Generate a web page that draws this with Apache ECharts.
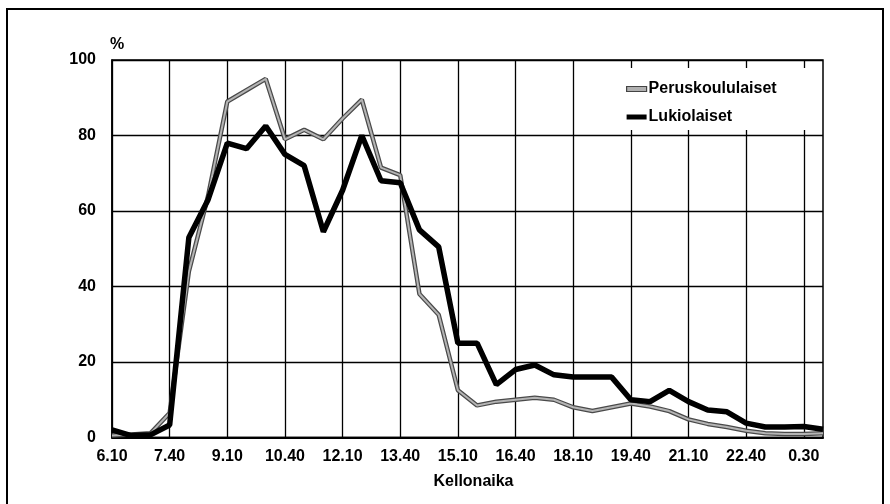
<!DOCTYPE html>
<html>
<head>
<meta charset="utf-8">
<script src="https://cdn.jsdelivr.net/npm/echarts@6/dist/echarts.min.js"></script>
<style>
  html, body { margin: 0; padding: 0; background: #fff; }
  #chart { width: 890px; height: 504px; }
</style>
</head>
<body>
<div id="chart"></div>
<script>
// kellonajat, 30 min valein
var times = ['6.10','6.40','7.10','7.40','8.10','8.40','9.10','9.40','10.10','10.40',
  '11.10','11.40','12.10','12.40','13.10','13.40','14.10','14.40','15.10','15.40',
  '16.10','16.40','17.10','17.40','18.10','18.40','19.10','19.40','20.10','20.40',
  '21.10','21.40','22.10','22.40','23.10','23.40','0.30','1.00'];

var peruskoulu = [0.5, 0.8, 1.1, 6.5, 44, 64, 89, 92, 95, 79,
  81.5, 79, 84.5, 89.5, 71.5, 69.5, 38, 32.5, 12.5, 8.5,
  9.5, 10, 10.5, 10, 8, 7, 8, 9, 8.2, 7,
  4.8, 3.6, 2.8, 1.8, 1.1, 0.9, 0.9, 1.1];

var lukio = [2, 0.5, 0.7, 3.3, 53, 63, 78, 76.5, 82.5, 75,
  72, 54.5, 65.5, 80, 68, 67.5, 55, 50.5, 25, 25,
  14, 18, 19.2, 16.6, 16, 16, 16, 10, 9.5, 12.5,
  9.5, 7.3, 6.8, 3.8, 2.8, 2.8, 2.9, 2.2];

var yTicks = [0, 20, 40, 60, 80, 100];

var font = '"Liberation Sans Narrow", "Liberation Sans", Arial, sans-serif';

var chart = echarts.init(document.getElementById('chart'));

var option = {
  backgroundColor: '#fff',
  animation: false,
  grid: {
    left: 112, right: 67, top: 60, bottom: 66.5,
    show: true,
    borderColor: '#000',
    borderWidth: 1.5
  },
  graphic: [
    { // ulkokehys
      type: 'rect',
      shape: { x: 7, y: 9, width: 876, height: 510 },
      style: { fill: null, stroke: '#000', lineWidth: 2 }
    },
    { // selitteen tausta
      type: 'rect',
      z: 3,
      shape: { x: 577, y: 68, width: 245, height: 62 },
      style: { fill: '#fff' }
    }
  ],
  legend: {
    left: 621, top: 76,
    orient: 'vertical',
    itemGap: 12,
    itemWidth: 20,
    itemHeight: 5,
    z: 10,
    icon: 'rect',
    textStyle: { fontFamily: font, fontWeight: 'bold', fontSize: 16, color: '#000', padding: [0, 0, 0, -3] },
    data: [
      { name: 'Peruskoululaiset', itemStyle: { color: '#b0b0b0', borderColor: '#444', borderWidth: 1.2 } },
      { name: 'Lukiolaiset', itemStyle: { color: '#000' } }
    ]
  },
  xAxis: {
    type: 'category',
    data: times,
    boundaryGap: false,
    name: 'Kellonaika',
    nameLocation: 'middle',
    nameGap: 36,
    nameTextStyle: { fontFamily: font, fontWeight: 'bold', fontSize: 16, color: '#000', padding: [0, 0, 0, 12] },
    axisLine: { lineStyle: { color: '#000', width: 2 } },
    axisTick: { show: false },
    axisLabel: {
      interval: 2,
      margin: 11,
      fontFamily: font, fontWeight: 'bold', fontSize: 16, color: '#000'
    },
    splitLine: { show: true, interval: 2, lineStyle: { color: '#000', width: 1.3 } }
  },
  yAxis: {
    type: 'value',
    min: 0, max: 100, interval: 20,
    name: '%',
    nameGap: 7,
    nameTextStyle: { fontFamily: font, fontWeight: 'bold', fontSize: 16, color: '#000', align: 'left', padding: [0, 0, 0, -2] },
    axisLine: { show: true, lineStyle: { color: '#000', width: 1.5 } },
    axisTick: { show: false },
    axisLabel: {
      margin: 16,
      fontFamily: font, fontWeight: 'bold', fontSize: 16, color: '#000',
      formatter: function (v) { return yTicks.indexOf(v) >= 0 ? v : ''; }
    },
    splitLine: { show: true, lineStyle: { color: '#000', width: 1.3 } }
  },
  series: [
    {
      name: 'Peruskoululaiset',
      type: 'line',
      data: peruskoulu,
      showSymbol: false,
      z: 2,
      lineStyle: { color: '#4a4a4a', width: 4.5 },
      itemStyle: { color: '#b0b0b0' }
    },
    { // harmaan viivan vaalea keskiosa
      name: 'peruskoulu-sisä',
      type: 'line',
      data: peruskoulu,
      showSymbol: false,
      silent: true,
      z: 3,
      lineStyle: { color: '#b4b4b4', width: 2 }
    },
    {
      name: 'Lukiolaiset',
      type: 'line',
      data: lukio,
      showSymbol: false,
      z: 4,
      lineStyle: { color: '#000', width: 5.5 },
      itemStyle: { color: '#000' }
    }
  ]
};

chart.setOption(option);
</script>
</body>
</html>
